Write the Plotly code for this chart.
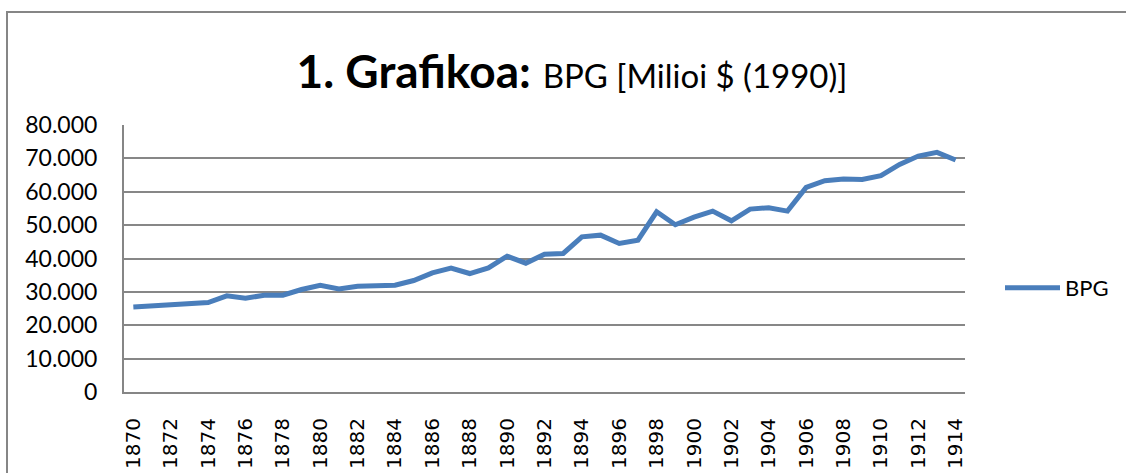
import plotly.graph_objects as go

years = list(range(1870, 1915))
bpg = [25500, 25800, 26200, 26500, 26800, 28800, 28100, 29000, 29000, 30700,
       32000, 30900, 31700, 31800, 32000, 33400, 35700, 37100, 35500, 37200,
       40700, 38600, 41300, 41500, 46500, 47000, 44500, 45500, 54000, 50100,
       52400, 54200, 51300, 54800, 55200, 54200, 61300, 63300, 63800, 63700,
       64800, 68200, 70700, 71800, 69500]
x_ticks = list(range(1870, 1915, 2))
y_ticks = list(range(0, 80001, 10000))

W, H = 1126, 473
L, R, T, B = 124, 161, 125, 81
pw, ph = W - L - R, H - T - B

def px_x(p):
    return (p - L) / pw

def px_y(p):
    return (H - B - p) / ph

fig = go.Figure()
fig.add_trace(go.Scatter(
    x=years, y=bpg, mode="lines", name="BPG",
    line=dict(color="#4a7ebb", width=5, shape="linear"),
))

fig.update_layout(
    width=W, height=H,
    margin=dict(l=L, r=R, t=T, b=B, autoexpand=False),
    paper_bgcolor="white", plot_bgcolor="white",
    separators=",.",
    font=dict(family="Lato, Carlito, sans-serif", color="black"),
    title=dict(
        text="<b>1. Grafikoa:</b> <span style='font-size:33px'>BPG [Milioi $ (1990)]</span>",
        font=dict(size=46, family="Lato, sans-serif", color="black"),
        x=px_x(572), xref="paper", xanchor="center",
        y=1 - 88 / H, yref="container", yanchor="bottom",
        pad=dict(b=0),
    ),
    showlegend=True,
    legend=dict(
        x=px_x(1000), y=px_y(288), xanchor="left", yanchor="middle",
        font=dict(size=22, family="Lato, sans-serif"),
        bgcolor="rgba(0,0,0,0)",
        itemwidth=55,
    ),
    xaxis=dict(
        range=[1869.5, 1914.5],
        tickmode="array", tickvals=x_ticks, ticktext=[str(v) for v in x_ticks],
        tickangle=-90,
        tickfont=dict(family="DejaVu Sans", size=20),
        showgrid=False, zeroline=False,
        showline=True, linecolor="#868686", linewidth=2,
        ticks="", ticklabelstandoff=16, automargin=False,
    ),
    yaxis=dict(
        range=[0, 80000],
        tickmode="array", tickvals=y_ticks,
        tickformat=",d",
        tickfont=dict(family="Lato, sans-serif", size=23),
        showgrid=True, gridcolor="#878787", gridwidth=1.6,
        zeroline=False,
        showline=True, linecolor="#868686", linewidth=2,
        ticks="", ticklabelstandoff=20, automargin=False,
    ),
    shapes=[dict(
        type="rect", xref="paper", yref="paper",
        x0=px_x(7), x1=px_x(1140), y0=px_y(490), y1=px_y(12),
        line=dict(color="#868686", width=2), fillcolor="rgba(0,0,0,0)",
        layer="below",
    )],
)

fig.write_html("out.html", config={"displayModeBar": False},
               post_script="document.body.style.margin='0';document.body.style.overflow='hidden';")
